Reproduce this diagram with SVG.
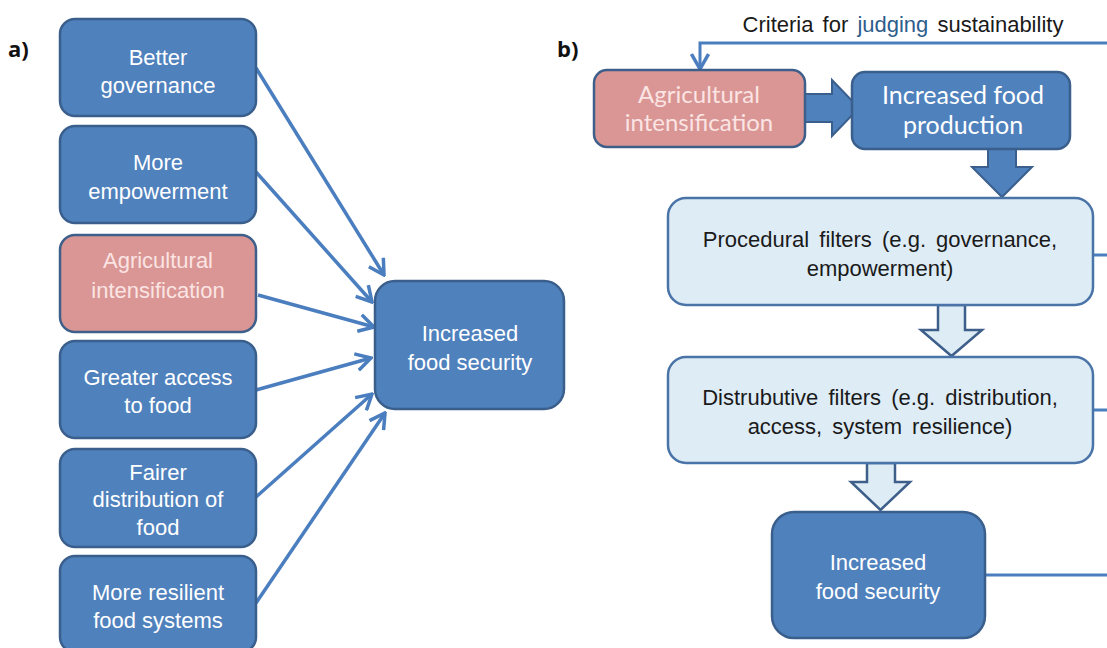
<svg xmlns="http://www.w3.org/2000/svg" width="1107" height="648" viewBox="0 0 1107 648">
<style>
.bx{fill:#4f81bd;stroke:#3a5f8c;stroke-width:2.5}
.pk{fill:#d99694;stroke:#3e5f8a;stroke-width:2.5}
.lt{fill:#deecf6;stroke:#4a74a8;stroke-width:2.5}
.t{font-family:"Liberation Sans",Arial,sans-serif;font-size:22px;fill:#ffffff;text-anchor:middle}
.pt{font-family:"Liberation Sans",Arial,sans-serif;font-size:22px;fill:#fbe4e3;text-anchor:middle}
.c{font-family:Lato,"Open Sans",sans-serif;font-size:25px;fill:#ffffff;text-anchor:middle}
.cp{font-family:Lato,"Open Sans",sans-serif;font-size:24px;fill:#fbe4e3;text-anchor:middle}
.d{font-family:"Liberation Sans",Arial,sans-serif;font-size:22px;fill:#1a1a1a;text-anchor:middle;word-spacing:4px}
.lab{font-family:"Open Sans","Liberation Sans",sans-serif;font-size:22px;font-weight:bold;fill:#111}
.ln{fill:none;stroke:#4a7ebf;stroke-width:3.5}
.ln2{fill:none;stroke:#4a7ebf;stroke-width:3}
.blk{fill:#4f81bd;stroke:#3a5f8c;stroke-width:2}
.hol{fill:#deecf6;stroke:#3e5f8a;stroke-width:2.5}
</style>
<defs>
<marker id="ah" markerUnits="userSpaceOnUse" viewBox="0 0 18 20" refX="16" refY="10" markerWidth="18" markerHeight="20" orient="auto">
<path d="M1,1.5 L16,10 L1,18.5" fill="none" stroke="#4a7ebf" stroke-width="3.5"/>
</marker>
</defs>
<text class="lab" x="8" y="57">a)</text>
<text class="lab" x="557" y="57">b)</text>

<g id="connectors">
<line class="ln" x1="256" y1="68" x2="384" y2="275" marker-end="url(#ah)"/>
<line class="ln" x1="256" y1="172" x2="372" y2="302" marker-end="url(#ah)"/>
<line class="ln" x1="258" y1="295" x2="374" y2="327" marker-end="url(#ah)"/>
<line class="ln" x1="256" y1="390" x2="371" y2="358" marker-end="url(#ah)"/>
<line class="ln" x1="256" y1="497" x2="372" y2="394" marker-end="url(#ah)"/>
<line class="ln" x1="256" y1="603" x2="385" y2="413" marker-end="url(#ah)"/>
<polyline class="ln2" points="1107,43 700,43 700,69" marker-end="url(#ah)"/>
<line class="ln2" x1="1093" y1="255" x2="1107" y2="255"/>
<line class="ln2" x1="1093" y1="410" x2="1107" y2="410"/>
<line class="ln2" x1="985" y1="575" x2="1107" y2="575"/>
<polygon class="blk" points="805,94 832,94 832,80 859,108 832,136 832,122 805,122"/>
<polygon class="blk" points="988,149 1016,149 1016,167 1032,167 1002,197 972,167 988,167"/>
<polygon class="hol" points="938,305 965,305 965,330 982,330 951.5,356 921,330 938,330"/>
<polygon class="hol" points="867,463 895,463 895,482 910,482 880.5,510 851,482 867,482"/>
</g>

<g id="a-governance"><rect class="bx" x="60" y="19" width="196" height="97" rx="15"/>
<text class="t" x="158" y="65">Better</text><text class="t" x="158" y="93">governance</text></g>
<g id="a-empowerment"><rect class="bx" x="60" y="126" width="196" height="97" rx="15"/>
<text class="t" x="158" y="170">More</text><text class="t" x="158" y="199">empowerment</text></g>
<g id="a-intensification"><rect class="pk" x="60" y="235" width="196" height="97" rx="15"/>
<text class="pt" x="158" y="268">Agricultural</text><text class="pt" x="158" y="298">intensification</text></g>
<g id="a-access"><rect class="bx" x="60" y="341" width="196" height="97" rx="15"/>
<text class="t" x="158" y="385">Greater access</text><text class="t" x="158" y="413">to food</text></g>
<g id="a-distribution"><rect class="bx" x="60" y="449" width="196" height="98" rx="15"/>
<text class="t" x="158" y="480">Fairer</text><text class="t" x="158" y="507">distribution of</text><text class="t" x="158" y="535">food</text></g>
<g id="a-resilient"><rect class="bx" x="60" y="556" width="196" height="96" rx="15"/>
<text class="t" x="158" y="600">More resilient</text><text class="t" x="158" y="628">food systems</text></g>
<g id="a-security"><rect class="bx" x="375" y="281" width="189" height="128" rx="20"/>
<text class="t" x="470" y="341">Increased</text><text class="t" x="470" y="370">food security</text></g>

<g id="b-criteria"><text x="903" y="32" font-family="'Liberation Sans',Arial,sans-serif" font-size="22" fill="#1a1a1a" text-anchor="middle" word-spacing="3">Criteria for <tspan fill="#2e5d8c">judging</tspan> sustainability</text></g>
<g id="b-intensification"><rect class="pk" x="594" y="70" width="211" height="77" rx="13"/>
<text class="cp" x="699" y="103">Agricultural</text><text class="cp" x="699" y="131">intensification</text></g>
<g id="b-production"><rect class="bx" x="852" y="72" width="218" height="77" rx="13"/>
<text class="c" x="963" y="104">Increased food</text><text class="c" x="963" y="134">production</text></g>
<g id="b-procedural"><rect class="lt" x="668" y="198" width="425" height="107" rx="18"/>
<text class="d" x="880" y="247">Procedural filters (e.g. governance,</text><text class="d" x="880" y="276">empowerment)</text></g>
<g id="b-distributive"><rect class="lt" x="668" y="357" width="425" height="106" rx="18"/>
<text class="d" x="880" y="405">Distrubutive filters (e.g. distribution,</text><text class="d" x="880" y="434">access, system resilience)</text></g>
<g id="b-security"><rect class="bx" x="772" y="512" width="213" height="126" rx="22"/>
<text class="t" x="878" y="570">Increased</text><text class="t" x="878" y="599">food security</text></g>
</svg>
